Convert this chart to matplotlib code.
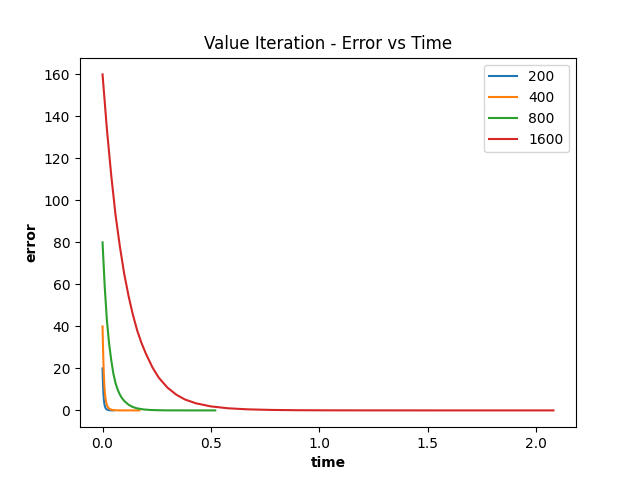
import matplotlib
matplotlib.use("Agg")
import matplotlib.pyplot as plt

labels = ["200", "400", "800", "1600"]

t200 = [0, 0.001, 0.002, 0.003, 0.004, 0.006, 0.008, 0.010, 0.013, 0.016, 0.02, 0.025, 0.03, 0.04, 0.05]
e200 = [20, 16, 13, 10.3, 8, 5.2, 3.4, 2.3, 1.3, 0.8, 0.45, 0.22, 0.1, 0.02, 0]

t400 = [0, 0.0015, 0.003, 0.0045, 0.006, 0.008, 0.010, 0.013, 0.016, 0.02, 0.025, 0.03,
        0.035, 0.045, 0.06, 0.08, 0.12, 0.17]
e400 = [40, 33, 27, 21.5, 17, 12.5, 9.3, 6.2, 4.2, 2.6, 1.5, 0.9,
        0.55, 0.22, 0.06, 0.01, 0, 0]

t800 = [0, 0.01, 0.02, 0.03, 0.04, 0.05, 0.06, 0.07, 0.08, 0.09, 0.1, 0.12, 0.14,
        0.16, 0.19, 0.22, 0.26, 0.3, 0.4, 0.52]
e800 = [80, 59, 43, 32, 24, 17.5, 13, 9.8, 7.5, 5.8, 4.5, 2.7, 1.6,
        0.95, 0.45, 0.2, 0.07, 0.02, 0, 0]

t1600 = [0, 0.02, 0.04, 0.06, 0.08, 0.1, 0.12, 0.14, 0.16, 0.18, 0.2, 0.23, 0.26,
         0.3, 0.34, 0.38, 0.43, 0.5, 0.58, 0.67, 0.78, 0.9, 1.05, 1.25, 1.5, 1.8, 2.08]
e1600 = [160, 134, 112, 93, 78, 65, 54.5, 45.5, 38, 32, 27, 20.5, 15.5,
         10.8, 7.5, 5.2, 3.4, 1.9, 1.0, 0.5, 0.22, 0.09, 0.03, 0.01, 0, 0, 0]

fig, ax = plt.subplots(figsize=(6.4, 4.8), dpi=100)
for t, e, lab in [(t200, e200, labels[0]), (t400, e400, labels[1]),
                  (t800, e800, labels[2]), (t1600, e1600, labels[3])]:
    ax.plot(t, e, label=lab)
ax.set_title("Value Iteration - Error vs Time")
ax.set_xlabel("time", fontweight="bold")
ax.set_ylabel("error", fontweight="bold")
ax.legend(loc="upper right")
fig.savefig("out.png", dpi=100)
